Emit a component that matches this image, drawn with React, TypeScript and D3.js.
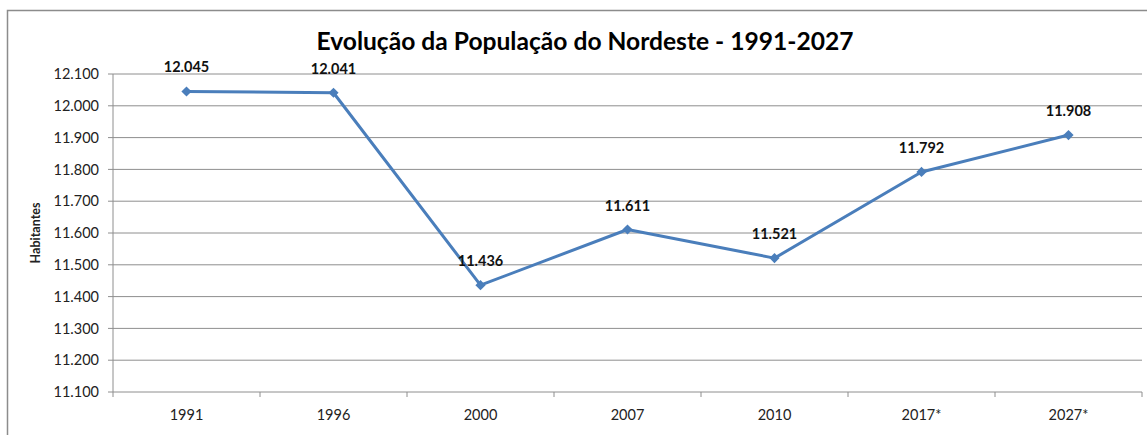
import React from "react";
import * as d3 from "d3";

const anos = ["1991", "1996", "2000", "2007", "2010", "2017*", "2027*"];
const habitantes = [12045, 12041, 11436, 11611, 11521, 11792, 11908];
const yTicks = [11100, 11200, 11300, 11400, 11500, 11600, 11700, 11800, 11900, 12000, 12100];

const W = 1147;
const H = 435;
const FONT = "Lato, 'Open Sans', sans-serif";
const AZUL = "#4a7ebb";

const fmt = (v: number) => d3.format(",.0f")(v).replace(/,/g, ".");

const App = () => {
  const left = 113;
  const right = 1142;
  const top = 74;
  const bottom = 392;

  const x = d3.scaleBand<string>().domain(anos).range([left, right]);
  const y = d3.scaleLinear().domain([11100, 12100]).range([bottom, top]);

  const line = d3
    .line<number>()
    .x((d, i) => x(anos[i])! + x.bandwidth() / 2)
    .y((d) => y(d));

  // losango no estilo do Excel: quadrado girado 45°
  const marker = d3.symbol().type(d3.symbolSquare).size(52)();

  return (
    <svg
      width={W}
      height={H}
      style={{ position: "absolute", left: 0, top: 0, background: "#fff" }}
    >
      {/* moldura do gráfico */}
      <rect x={7.5} y={10.5} width={W} height={H} fill="#fff" stroke="#8c8c8c" strokeWidth={1.5} />

      <text
        x={585}
        y={50}
        textAnchor="middle"
        fontFamily={FONT}
        fontWeight="bold"
        fontSize={24.6}
        fill="#000"
      >
        Evolução da População do Nordeste - 1991-2027
      </text>

      {/* grade */}
      {yTicks.map((t) => (
        <g key={t}>
          <line x1={left - 5} x2={right} y1={y(t)} y2={y(t)} stroke="#8e8e8e" strokeWidth={1} />
          <text
            x={left - 14}
            y={y(t)}
            dy="0.36em"
            textAnchor="end"
            fontFamily={FONT}
            fontSize={14.5}
            fill="#222"
          >
            {fmt(t)}
          </text>
        </g>
      ))}

      {/* eixos */}
      <line x1={left} x2={left} y1={top} y2={bottom} stroke="#8e8e8e" strokeWidth={1} />
      {anos.map((a, i) => (
        <g key={a}>
          <line
            x1={x(a)! + x.bandwidth()}
            x2={x(a)! + x.bandwidth()}
            y1={bottom}
            y2={bottom + 5}
            stroke="#8e8e8e"
          />
          {i === 0 && (
            <line x1={x(a)!} x2={x(a)!} y1={bottom} y2={bottom + 5} stroke="#8e8e8e" />
          )}
          <text
            x={x(a)! + x.bandwidth() / 2}
            y={bottom + 28}
            textAnchor="middle"
            fontFamily={FONT}
            fontSize={14.5}
            fill="#222"
          >
            {a}
          </text>
        </g>
      ))}

      <text
        transform={`translate(40 ${(top + bottom) / 2}) rotate(-90)`}
        textAnchor="middle"
        fontFamily={FONT}
        fontWeight="bold"
        fontSize={12.5}
        fill="#222"
      >
        Habitantes
      </text>

      <path d={line(habitantes) ?? ""} fill="none" stroke={AZUL} strokeWidth={3} strokeLinejoin="round" />

      {habitantes.map((v, i) => {
        const cx = x(anos[i])! + x.bandwidth() / 2;
        const cy = y(v);
        return (
          <g key={i}>
            <path d={marker ?? ""} transform={`translate(${cx} ${cy}) rotate(45)`} fill={AZUL} />
            <text
              x={cx}
              y={cy - 19}
              textAnchor="middle"
              fontFamily={FONT}
              fontWeight="bold"
              fontSize={14.5}
              fill="#111"
            >
              {fmt(v)}
            </text>
          </g>
        );
      })}
    </svg>
  );
};

export default App;
